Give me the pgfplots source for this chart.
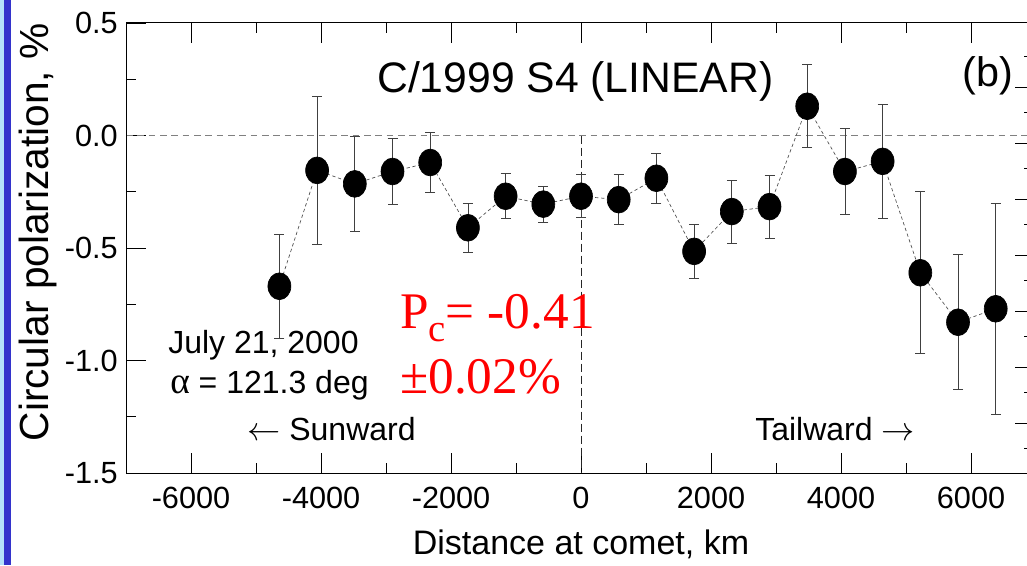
\documentclass[border=0pt]{standalone}
\usepackage{fontspec}
\setmainfont{Liberation Sans}
\newfontfamily\tnr{Liberation Serif}
\usepackage{pgfplots}
\pgfplotsset{compat=1.18}
\usepackage{pgfplotstable}
\definecolor{stripblue}{RGB}{51,51,204}
\definecolor{stripltblue}{RGB}{180,225,250}

\pgfplotstableread{
x y e
-4640 -0.670 0.230
-4060 -0.155 0.330
-3480 -0.215 0.210
-2900 -0.160 0.145
-2320 -0.120 0.135
-1740 -0.410 0.110
-1160 -0.270 0.100
-580 -0.305 0.080
0 -0.270 0.095
580 -0.285 0.110
1160 -0.190 0.110
1740 -0.515 0.120
2320 -0.338 0.140
2900 -0.316 0.140
3480 0.130 0.185
4060 -0.160 0.190
4640 -0.115 0.255
5220 -0.610 0.360
5800 -0.830 0.300
6380 -0.770 0.470
}\cpdata

\begin{document}
\begin{tikzpicture}
\useasboundingbox (0,0) rectangle (770.25pt,423.75pt);
\clip (0,0) rectangle (770.25pt,423.75pt);
\begin{axis}[
  at={(94.5pt,69pt)}, anchor=south west,
  width=682.5pt, height=337.5pt, scale only axis,
  xmin=-7000, xmax=7000, ymin=-1.5, ymax=0.5,
  xtick={-6000,-4000,-2000,0,2000,4000,6000},
  xticklabels={-6000,-4000,-2000,0,2000,4000,6000},
  minor x tick num=1,
  ytick={-1.5,-1,-0.5,0,0.5},
  yticklabels={-1.5,-1.0,-0.5,0.0,0.5},
  minor y tick num=1,
  ytick pos=left, xtick pos=both,
  tick align=inside,
  major tick length=15pt, minor tick length=7.5pt,
  axis line style={line width=0.75pt, black},
  tick style={line width=0.6pt, black},
  xticklabel style={anchor=base, inner sep=0pt, yshift=-26.5pt, font=\fontsize{23}{26}\selectfont},
  yticklabel style={anchor=east, inner sep=0pt, xshift=-6pt, font=\fontsize{23}{26}\selectfont},
  xlabel={Distance at comet, km},
  ylabel={Circular polarization, \%},
  every axis x label/.style={at={(axis description cs:0.5,-0.182)}, anchor=base, inner sep=0pt, font=\fontsize{25.5}{28}\selectfont},
  every axis y label/.style={at={(axis description cs:-0.0857,0.535)}, rotate=90, anchor=base, inner sep=0pt, font=\fontsize{30.5}{33}\selectfont},
]
\addplot[gray, dash pattern=on 5pt off 3.5pt, line width=0.6pt, forget plot] coordinates {(-7000,0) (7000,0)};
\addplot[black!85, dash pattern=on 6pt off 3pt, line width=0.6pt, forget plot] coordinates {(0,0) (0,-1.5)};
\addplot[black!70, dash pattern=on 2.5pt off 2pt, line width=0.5pt,
  mark=*, mark size=8.6pt,
  mark options={solid, fill=black, draw=black, yscale=1.17},
  error bars/.cd, y dir=both, y explicit,
  error bar style={black!75, line width=0.6pt, solid},
  error mark options={rotate=90, black!75, line width=0.6pt, mark size=3.75pt, solid}]
  table[x=x, y=y, y error=e] {\cpdata};
\end{axis}
\begin{axis}[
  at={(94.5pt,69pt)}, anchor=south west,
  width=682.5pt, height=337.5pt, scale only axis,
  xmin=-7000, xmax=7000, ymin=-1.5, ymax=0.5,
  xtick=\empty,
  ytick={0.2133,-0.0356,-0.2844,-0.5333,-0.7822,-1.0311,-1.28},
  minor ytick={0.3511,0.1022,-0.1467,-0.3956,-0.6444,-0.8933,-1.1422,-1.3911},
  yticklabels={},
  ytick pos=right, tick align=inside,
  major tick length=15.75pt, minor tick length=9pt,
  axis line style={line width=0.75pt, black},
  tick style={line width=0.6pt, black},
]
\end{axis}
\fill[stripltblue] (0,0) rectangle (3pt,423.75pt);
\fill[stripblue] (3pt,0) rectangle (8pt,423.75pt);
\node[anchor=base west, inner sep=0pt, font=\fontsize{32}{36}\selectfont] at (282.75pt,354pt) {C/1999 S4 (LINEAR)};
\node[anchor=base west, inner sep=0pt, font=\fontsize{31}{34}\selectfont] at (721.5pt,358.5pt) {(b)};
\node[anchor=base west, inner sep=0pt, font=\fontsize{24}{28}\selectfont] at (126pt,159pt) {July 21, 2000};
\node[anchor=base west, inner sep=0pt, font=\fontsize{24}{28}\selectfont] at (127.5pt,129pt) {{\tnr\fontsize{28}{30}\selectfont α} = 121.3 deg};
\node[anchor=base west, inner sep=0pt, font=\fontsize{24}{28}\selectfont] at (185.25pt,93.75pt) {$\leftarrow$ Sunward};
\node[anchor=base west, inner sep=0pt, font=\fontsize{24}{28}\selectfont] at (566.25pt,93.75pt) {Tailward $\rightarrow$};
\node[anchor=base west, inner sep=0pt, red, font=\tnr\fontsize{38.5}{41}\selectfont] at (300pt,177.75pt) {P\raisebox{-10pt}{\fontsize{29}{29}\selectfont c}= -0.41};
\node[anchor=base west, inner sep=0pt, red, font=\tnr\fontsize{38.5}{41}\selectfont] at (300pt,129pt) {±0.02\%};
\end{tikzpicture}
\end{document}
